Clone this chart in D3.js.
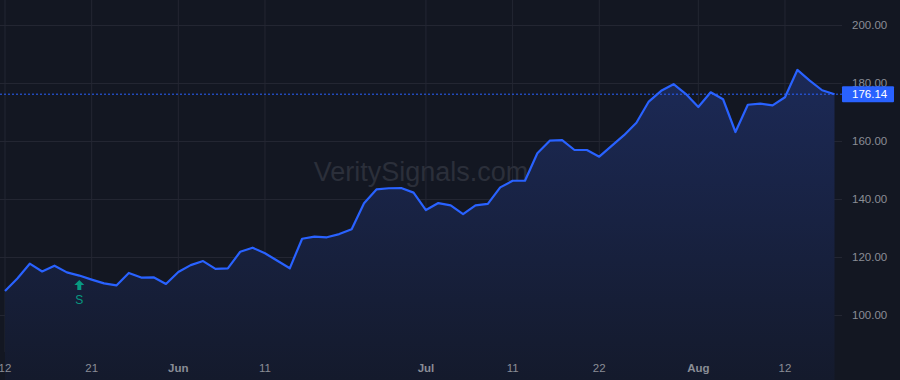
<!DOCTYPE html>
<html>
<head>
<meta charset="utf-8">
<script src="https://cdn.jsdelivr.net/npm/d3@7"></script>
<style>
  html, body { margin: 0; padding: 0; background: #131722; }
  svg { display: block; font-family: "Liberation Sans", Arial, sans-serif; }
</style>
</head>
<body>
<div id="chart"></div>
<script>
// trading days shown on the chart
var dates = [
  "2025-05-12","2025-05-13","2025-05-14","2025-05-15","2025-05-16","2025-05-19","2025-05-20","2025-05-21",
  "2025-05-22","2025-05-23","2025-05-27","2025-05-28","2025-05-29","2025-05-30",
  "2025-06-02","2025-06-03","2025-06-04","2025-06-05","2025-06-06","2025-06-09","2025-06-10","2025-06-11",
  "2025-06-12","2025-06-13","2025-06-16","2025-06-17","2025-06-18","2025-06-20","2025-06-23","2025-06-24",
  "2025-06-25","2025-06-26","2025-06-27","2025-06-30",
  "2025-07-01","2025-07-02","2025-07-03","2025-07-07","2025-07-08","2025-07-09","2025-07-10","2025-07-11",
  "2025-07-14","2025-07-15","2025-07-16","2025-07-17","2025-07-18","2025-07-21","2025-07-22","2025-07-23",
  "2025-07-24","2025-07-25","2025-07-28","2025-07-29","2025-07-30","2025-07-31",
  "2025-08-01","2025-08-04","2025-08-05","2025-08-06","2025-08-07","2025-08-08","2025-08-11","2025-08-12",
  "2025-08-13","2025-08-14","2025-08-15","2025-08-18"
];

var closes = [
  108.3, 112.6, 117.7, 115.0, 117.0, 114.7, 113.6, 112.2, 110.9, 110.2, 114.5, 112.9, 113.0, 110.7,
  114.8, 117.2, 118.6, 115.9, 116.1, 121.8, 123.2, 121.3, 118.7, 116.1, 126.3, 127.0, 126.8, 127.9,
  129.6, 138.5, 143.3, 143.7, 143.8, 142.2,
  136.2, 138.6, 137.8, 134.8, 137.8, 138.3, 144.0, 146.3, 146.3, 155.8, 160.1, 160.3, 156.9, 156.9,
  154.6, 158.3, 162.0, 166.3, 173.6, 177.3, 179.6, 176.2,
  171.7, 176.8, 174.4, 163.1, 172.5, 172.9, 172.3, 175.1, 184.5, 180.8, 177.5, 176.14
];

var lastPrice = 176.14;

var xTickDates = ["2025-05-12","2025-05-21","2025-06-02","2025-06-11","2025-07-01","2025-07-11","2025-07-22","2025-08-01","2025-08-12"];
var xTickLabels = ["12","21","Jun","11","Jul","11","22","Aug","12"];
var monthTicks = ["Jun","Jul","Aug"];

var yTicks = [100, 120, 140, 160, 180, 200];

var signalDates = ["2025-05-20"];
var signalLabels = ["S"];

var width = 900, height = 380,
    plotRight = 842, plotBottom = 352;

var svg = d3.select("#chart").append("svg")
  .attr("width", width)
  .attr("height", height);

svg.append("rect").attr("width", width).attr("height", height).attr("fill", "#131722");

var x = d3.scalePoint()
  .domain(dates)
  .range([5, 834.5]);

var y = d3.scaleLinear()
  .domain([100, 200])
  .range([315, 25]);

// grid
svg.append("g").selectAll("line.v")
  .data(xTickDates)
  .enter().append("line")
    .attr("x1", function(d) { return x(d); })
    .attr("x2", function(d) { return x(d); })
    .attr("y1", 0).attr("y2", plotBottom)
    .attr("stroke", "#232632").attr("stroke-width", 1);

svg.append("g").selectAll("line.h")
  .data(yTicks)
  .enter().append("line")
    .attr("x1", 0).attr("x2", plotRight)
    .attr("y1", function(d) { return Math.round(y(d)) + 0.5; })
    .attr("y2", function(d) { return Math.round(y(d)) + 0.5; })
    .attr("stroke", "#232632").attr("stroke-width", 1);

// watermark
svg.append("text")
  .attr("x", 421).attr("y", 181)
  .attr("text-anchor", "middle")
  .attr("font-size", 27)
  .attr("fill", "#2b2f3a")
  .text("VeritySignals.com");

// area + line
var defs = svg.append("defs");
var grad = defs.append("linearGradient")
  .attr("id", "areaGrad")
  .attr("gradientUnits", "userSpaceOnUse")
  .attr("x1", 0).attr("y1", 60).attr("x2", 0).attr("y2", height);
grad.append("stop").attr("offset", "0%").attr("stop-color", "#1c2a58");
grad.append("stop").attr("offset", "100%").attr("stop-color", "#141a2c");

var series = dates.map(function(d, i) { return {date: d, value: closes[i]}; });

var area = d3.area()
  .x(function(d) { return x(d.date); })
  .y0(height)
  .y1(function(d) { return y(d.value); });

svg.append("path")
  .datum(series)
  .attr("d", area)
  .attr("fill", "url(#areaGrad)");

var line = d3.line()
  .x(function(d) { return x(d.date); })
  .y(function(d) { return y(d.value); });

svg.append("path")
  .datum(series)
  .attr("d", line)
  .attr("fill", "none")
  .attr("stroke", "#2962ff")
  .attr("stroke-width", 2.2)
  .attr("stroke-linejoin", "round");

// last price line
svg.append("line")
  .attr("x1", 0).attr("x2", plotRight)
  .attr("y1", y(lastPrice)).attr("y2", y(lastPrice))
  .attr("stroke", "#2962ff")
  .attr("stroke-width", 1)
  .attr("stroke-dasharray", "2,2");

// right axis labels
svg.append("g").selectAll("text")
  .data(yTicks)
  .enter().append("text")
    .attr("x", 852)
    .attr("y", function(d) { return y(d) + 4; })
    .attr("font-size", 11.5)
    .attr("fill", "#8a8d96")
    .text(function(d) { return d3.format(".2f")(d); });

svg.append("rect")
  .attr("x", plotRight).attr("y", y(lastPrice) - 8)
  .attr("width", 52).attr("height", 16)
  .attr("rx", 1)
  .attr("fill", "#2962ff");
svg.append("text")
  .attr("x", 852).attr("y", y(lastPrice) + 4)
  .attr("font-size", 11.5)
  .attr("fill", "#ffffff")
  .text(d3.format(".2f")(lastPrice));

// bottom axis labels
svg.append("g").selectAll("text")
  .data(xTickDates)
  .enter().append("text")
    .attr("x", function(d) { return x(d); })
    .attr("y", 372)
    .attr("text-anchor", "middle")
    .attr("font-size", 11.5)
    .attr("font-weight", function(d, i) { return monthTicks.indexOf(xTickLabels[i]) >= 0 ? "bold" : "normal"; })
    .attr("fill", "#8a8d96")
    .text(function(d, i) { return xTickLabels[i]; });

// signal markers
var sig = svg.append("g").selectAll("g")
  .data(signalDates)
  .enter().append("g")
    .attr("transform", function(d) { return "translate(" + x(d) + ",0)"; });
sig.append("path")
  .attr("d", "M0,280 L5,285 L2,285 L2,290 L-2,290 L-2,285 L-5,285 Z")
  .attr("fill", "#089981");
sig.append("text")
  .attr("y", 304)
  .attr("text-anchor", "middle")
  .attr("font-size", 12)
  .attr("fill", "#089981")
  .text(function(d, i) { return signalLabels[i]; });
</script>
</body>
</html>
